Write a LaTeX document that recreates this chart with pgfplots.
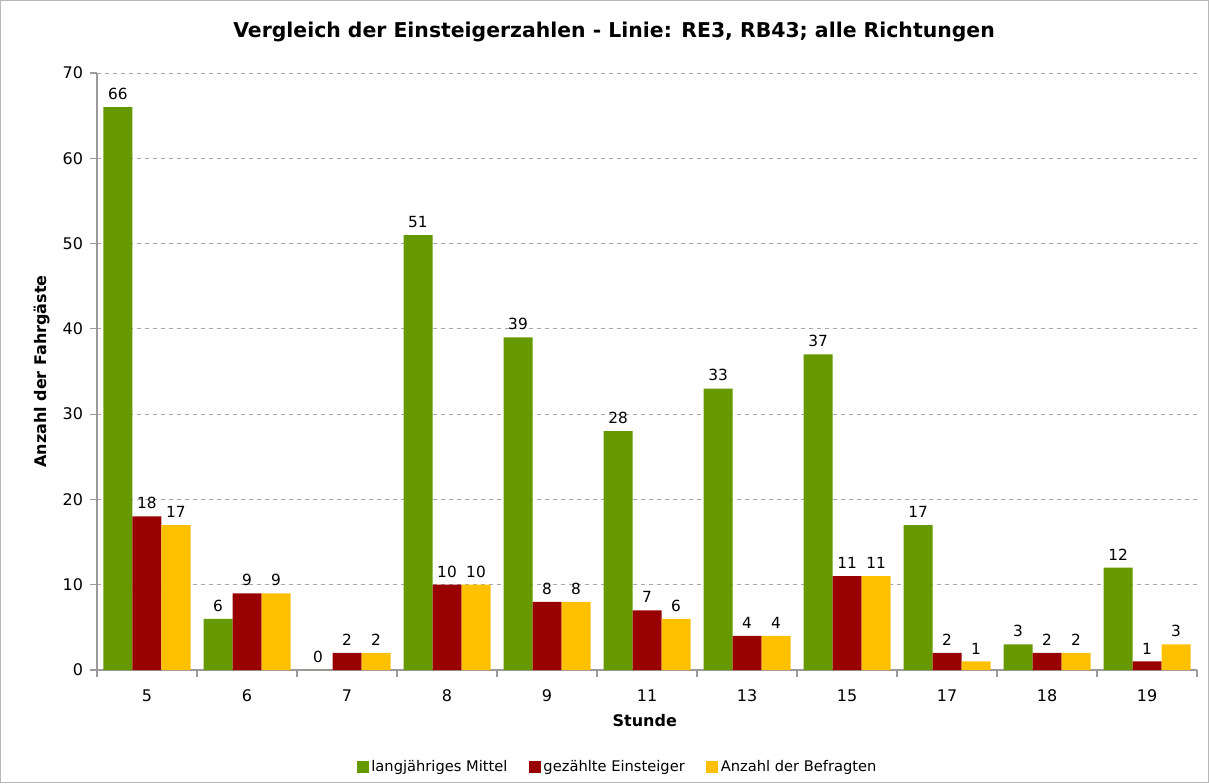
\documentclass[border=0pt]{standalone}
\usepackage{fontspec}
\setmainfont{DejaVu Sans}
\usepackage{pgfplots}
\pgfplotsset{compat=1.18}
\definecolor{cgreen}{HTML}{669900}
\definecolor{cred}{HTML}{990000}
\definecolor{cyel}{HTML}{FFC000}
\definecolor{axgray}{HTML}{9A9A9A}
\begin{document}
\begin{tikzpicture}
\path[use as bounding box] (-72.75pt,-84.75pt) rectangle (834pt,502.5pt);
\draw[color=axgray!70, line width=1pt] (-72.25pt,-84.25pt) rectangle (833.5pt,502pt);
\begin{axis}[
  at={(0pt,0pt)}, anchor=south west,
  width=825pt, height=447.75pt, scale only axis,
  /pgf/number format/assume math mode=true,
  ybar=0pt, bar width=21.75pt,
  xmin=-0.5, xmax=10.5, ymin=0, ymax=70,
  xtick={0,...,10},
  xticklabels={5,6,7,8,9,11,13,15,17,18,19},
  minor xtick={-0.5,0.5,...,10.5},
  ytick={0,10,...,70},
  major x tick style={draw=none},
  tick align=outside, tick pos=lower,
  major tick length=5pt, minor tick length=5pt,
  every tick/.style={axgray, line width=0.8pt},
  axis x line*=bottom, axis y line*=left,
  axis line style={axgray, line width=0.8pt, -},
  ymajorgrids, grid style={dashed, gray!70, line width=0.6pt},
  ticklabel style={font=\fontsize{12}{14}\selectfont},
  xticklabel style={yshift=-6pt},
  yticklabel style={xshift=-2pt},
  title={Vergleich der Einsteigerzahlen - Linie: RE3, RB43; alle Richtungen},
  title style={font=\fontsize{15.3}{18}\selectfont\bfseries, at={(axis description cs:0.47,1.055)}, anchor=center},
  xlabel={Stunde},
  xlabel style={font=\fontsize{12}{14}\selectfont\bfseries, at={(axis description cs:0.498,-0.084)}, anchor=center},
  ylabel={Anzahl der Fahrgäste},
  ylabel style={font=\fontsize{12}{14}\selectfont\bfseries, at={(axis description cs:-0.05,0.5)}, anchor=center},
  nodes near coords,
  every node near coord/.append style={font=\fontsize{11.5}{14}\selectfont, black, yshift=2pt},
  legend columns=3,
  legend style={at={(axis description cs:0.4736,-0.1625)}, anchor=center, draw=none, font=\fontsize{11}{13}\selectfont,
    /tikz/every even column/.append style={column sep=14pt}},
  legend image code/.code={\fill[#1] (0pt,-4.5pt) rectangle (9pt,4.5pt);},
]
\addplot[fill=cgreen, draw=none] coordinates {(0,66) (1,6) (2,0) (3,51) (4,39) (5,28) (6,33) (7,37) (8,17) (9,3) (10,12)};
\addplot[fill=cred, draw=none] coordinates {(0,18) (1,9) (2,2) (3,10) (4,8) (5,7) (6,4) (7,11) (8,2) (9,2) (10,1)};
\addplot[fill=cyel, draw=none] coordinates {(0,17) (1,9) (2,2) (3,10) (4,8) (5,6) (6,4) (7,11) (8,1) (9,2) (10,3)};
\legend{langjähriges Mittel, gezählte Einsteiger, Anzahl der Befragten}
\end{axis}
\end{tikzpicture}
\end{document}
